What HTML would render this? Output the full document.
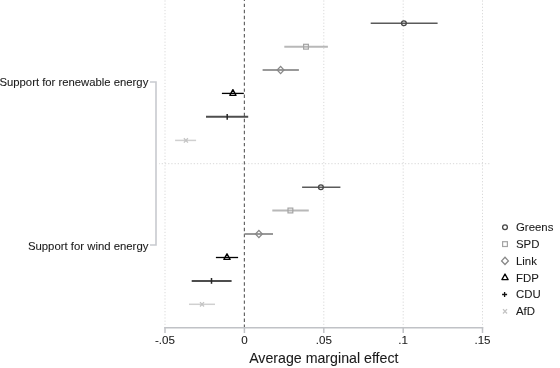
<!DOCTYPE html><html><head><meta charset="utf-8"><style>svg{will-change:transform}html,body{margin:0;padding:0;background:#fff;width:560px;height:368px;overflow:hidden}text{font-family:"Liberation Sans",sans-serif;stroke:#222;stroke-width:0.08px}</style></head><body><svg width="560" height="368" viewBox="0 0 560 368" style="display:block">
<rect width="560" height="368" fill="#fff"/>
<line x1="165" y1="0" x2="165" y2="327" stroke="#d9d9d9" stroke-width="1" stroke-dasharray="1.2 1.97" stroke-dashoffset="-0.4"/>
<line x1="323.8" y1="0" x2="323.8" y2="327" stroke="#d9d9d9" stroke-width="1" stroke-dasharray="1.2 1.97" stroke-dashoffset="-0.4"/>
<line x1="403.2" y1="0" x2="403.2" y2="327" stroke="#d9d9d9" stroke-width="1" stroke-dasharray="1.2 1.97" stroke-dashoffset="-0.4"/>
<line x1="482.5" y1="0" x2="482.5" y2="327" stroke="#d9d9d9" stroke-width="1" stroke-dasharray="1.2 1.97" stroke-dashoffset="-0.4"/>
<line x1="159" y1="163.7" x2="490" y2="163.7" stroke="#d9d9d9" stroke-width="1" stroke-dasharray="1.3 1.9" stroke-dashoffset="0.5"/>
<line x1="244.4" y1="0" x2="244.4" y2="327" stroke="#666" stroke-width="1.2" stroke-dasharray="3.4 2.655" stroke-dashoffset="2.355"/>
<line x1="164.3" y1="327.8" x2="483.2" y2="327.8" stroke="#c0c2c6" stroke-width="1.4"/>
<line x1="165" y1="327" x2="165" y2="333" stroke="#c0c2c6" stroke-width="1.5"/>
<line x1="244.4" y1="327" x2="244.4" y2="333" stroke="#c0c2c6" stroke-width="1.5"/>
<line x1="323.8" y1="327" x2="323.8" y2="333" stroke="#c0c2c6" stroke-width="1.5"/>
<line x1="403.2" y1="327" x2="403.2" y2="333" stroke="#c0c2c6" stroke-width="1.5"/>
<line x1="482.5" y1="327" x2="482.5" y2="333" stroke="#c0c2c6" stroke-width="1.5"/>
<text x="165" y="344.3" font-size="11.6" text-anchor="middle" fill="#1a1a1a">-.05</text>
<text x="244.4" y="344.3" font-size="11.6" text-anchor="middle" fill="#1a1a1a">0</text>
<text x="323.8" y="344.3" font-size="11.6" text-anchor="middle" fill="#1a1a1a">.05</text>
<text x="403.2" y="344.3" font-size="11.6" text-anchor="middle" fill="#1a1a1a">.1</text>
<text x="482.5" y="344.3" font-size="11.6" text-anchor="middle" fill="#1a1a1a">.15</text>
<text x="323.8" y="363" font-size="14.2" text-anchor="middle" fill="#1a1a1a">Average marginal effect</text>
<path d="M150 82 H156 V245 H150" fill="none" stroke="#c8cacf" stroke-width="1.6"/>
<text x="148.3" y="86" font-size="11.3" text-anchor="end" fill="#1a1a1a">Support for renewable energy</text>
<text x="148.4" y="249.6" font-size="11.35" text-anchor="end" fill="#1a1a1a">Support for wind energy</text>
<line x1="370.7" y1="23.3" x2="437.6" y2="23.3" stroke="#5a5a5a" stroke-width="1.5"/>
<circle cx="403.9" cy="23.3" r="2.4" fill="none" stroke="#474747" stroke-width="1.3"/>
<line x1="284.3" y1="46.7" x2="327.9" y2="46.7" stroke="#b8b8b8" stroke-width="2"/>
<rect x="303.6" y="44.300000000000004" width="4.8" height="4.8" fill="none" stroke="#a4a4a4" stroke-width="1.2"/>
<line x1="262.6" y1="70.0" x2="298.9" y2="70.0" stroke="#999999" stroke-width="2"/>
<path d="M280.6 66.4 L284.0 70.0 L280.6 73.6 L277.20000000000005 70.0 Z" fill="none" stroke="#888888" stroke-width="1.3"/>
<line x1="221.9" y1="93.4" x2="243.8" y2="93.4" stroke="#000000" stroke-width="1.3"/>
<path d="M232.9 89.7 L236.0 95.30000000000001 L229.8 95.30000000000001 Z" fill="none" stroke="#000000" stroke-width="1.35" stroke-linejoin="round"/>
<line x1="206.0" y1="116.8" x2="248.2" y2="116.8" stroke="#4d4d4d" stroke-width="2"/>
<path d="M227.2 113.89999999999999 V119.7" fill="none" stroke="#262626" stroke-width="1.5"/>
<line x1="175.1" y1="140.4" x2="196.1" y2="140.4" stroke="#d0d0d0" stroke-width="1.5"/>
<path d="M183.9 138.20000000000002 L187.9 142.6 M183.9 142.6 L187.9 138.20000000000002" fill="none" stroke="#c4c4c4" stroke-width="1.3"/>
<line x1="302.1" y1="187.3" x2="340.4" y2="187.3" stroke="#5a5a5a" stroke-width="1.5"/>
<circle cx="320.9" cy="187.3" r="2.4" fill="none" stroke="#474747" stroke-width="1.3"/>
<line x1="272.3" y1="210.5" x2="308.8" y2="210.5" stroke="#b8b8b8" stroke-width="2"/>
<rect x="288.0" y="208.1" width="4.8" height="4.8" fill="none" stroke="#a4a4a4" stroke-width="1.2"/>
<line x1="244.6" y1="234.0" x2="273.0" y2="234.0" stroke="#999999" stroke-width="2"/>
<path d="M258.9 230.4 L262.29999999999995 234.0 L258.9 237.6 L255.49999999999997 234.0 Z" fill="none" stroke="#888888" stroke-width="1.3"/>
<line x1="215.9" y1="257.5" x2="238.1" y2="257.5" stroke="#000000" stroke-width="1.3"/>
<path d="M227.0 253.8 L230.1 259.4 L223.9 259.4 Z" fill="none" stroke="#000000" stroke-width="1.35" stroke-linejoin="round"/>
<line x1="191.7" y1="280.9" x2="231.6" y2="280.9" stroke="#4d4d4d" stroke-width="2"/>
<path d="M211.5 278.0 V283.79999999999995" fill="none" stroke="#262626" stroke-width="1.5"/>
<line x1="189.0" y1="304.3" x2="215.0" y2="304.3" stroke="#d0d0d0" stroke-width="1.5"/>
<path d="M200.0 302.1 L204.0 306.5 M200.0 306.5 L204.0 302.1" fill="none" stroke="#c4c4c4" stroke-width="1.3"/>
<circle cx="505" cy="227.3" r="2.4" fill="none" stroke="#474747" stroke-width="1.3"/>
<text x="516" y="231.20000000000002" font-size="11.4" fill="#1a1a1a">Greens</text>
<rect x="502.6" y="241.7" width="4.8" height="4.8" fill="none" stroke="#a4a4a4" stroke-width="1.2"/>
<text x="516" y="248.0" font-size="11.4" fill="#1a1a1a">SPD</text>
<path d="M505 257.29999999999995 L508.4 260.9 L505 264.5 L501.6 260.9 Z" fill="none" stroke="#888888" stroke-width="1.3"/>
<text x="516" y="264.79999999999995" font-size="11.4" fill="#1a1a1a">Link</text>
<path d="M505 274.0 L508.1 279.59999999999997 L501.9 279.59999999999997 Z" fill="none" stroke="#000000" stroke-width="1.35" stroke-linejoin="round"/>
<text x="516" y="281.59999999999997" font-size="11.4" fill="#1a1a1a">FDP</text>
<path d="M504.6 292.0 V297.0 M502.1 294.5 H507.1" fill="none" stroke="#111" stroke-width="1.3"/>
<text x="516" y="298.4" font-size="11.4" fill="#1a1a1a">CDU</text>
<path d="M503 309.1 L507 313.5 M503 313.5 L507 309.1" fill="none" stroke="#c4c4c4" stroke-width="1.3"/>
<text x="516" y="315.2" font-size="11.4" fill="#1a1a1a">AfD</text>
</svg></body></html>
